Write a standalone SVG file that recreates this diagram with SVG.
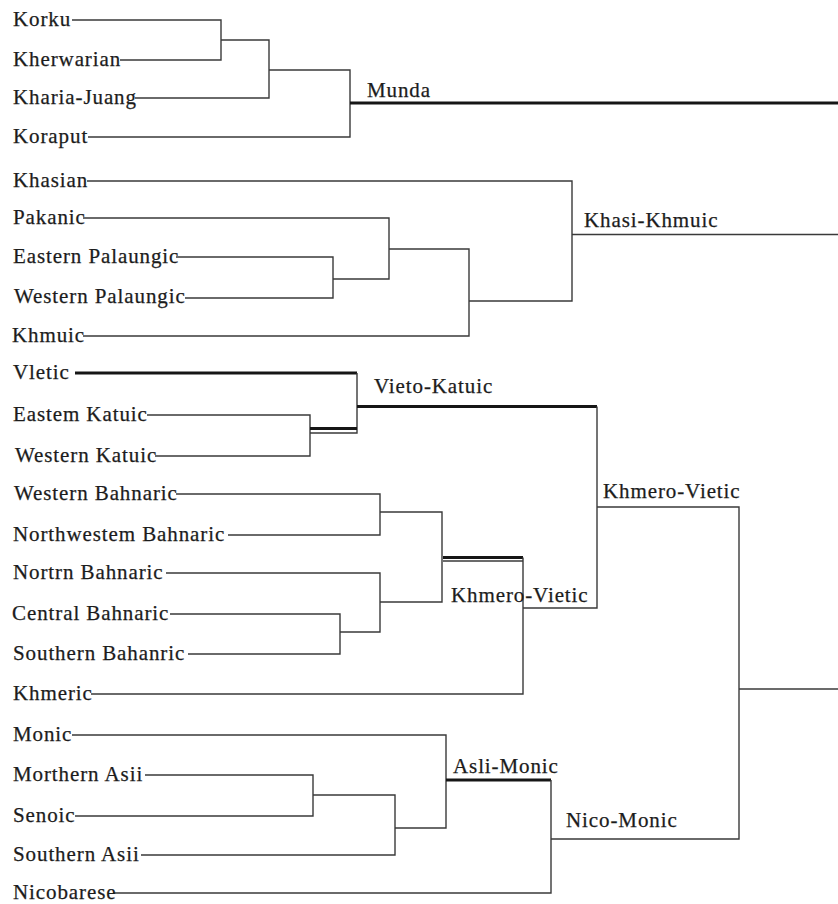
<svg xmlns="http://www.w3.org/2000/svg" width="838" height="904" viewBox="0 0 838 904">
<style>
text{font-family:"Liberation Serif","Times New Roman",serif;font-size:21px;letter-spacing:0.9px;fill:#1c1c1c;stroke:#1c1c1c;stroke-width:0.25}
.thin{fill:none;stroke:#3a3a3a;stroke-width:1.4}
.thick{fill:none;stroke:#161616;stroke-width:3}
</style>
<rect width="838" height="904" fill="#ffffff"/>
<g id="connectors">
<path class="thin" d="M72,20 H221 V60 H120"/>
<path class="thin" d="M221,40 H269 V98 H135"/>
<path class="thin" d="M269,70 H350 V137 H88"/>
<path class="thick" d="M350,103 H838"/>
<path class="thin" d="M176,257 H333 V298 H185"/>
<path class="thin" d="M333,279 H389 V218 H83"/>
<path class="thin" d="M389,249 H469 V336 H83"/>
<path class="thin" d="M469,301 H572 V181 H87"/>
<path class="thin" d="M572,234.5 H838" style="stroke-width:1.7"/>
<path class="thick" d="M75,373 H357"/>
<path class="thin" d="M357,373 V433 H310"/>
<path class="thin" d="M147,415 H310 V456 H155"/>
<path class="thick" d="M310,428.5 H357"/>
<path class="thick" d="M357,406.5 H597"/>
<path class="thin" d="M597,406.5 V608 H523"/>
<path class="thin" d="M597,507 H739 V839 H551"/>
<path class="thin" d="M739,689 H838"/>
<path class="thin" d="M176,494 H380 V535 H228"/>
<path class="thin" d="M380,512 H442 V602 H380"/>
<path class="thin" d="M166,573 H380 V632 H340"/>
<path class="thin" d="M170,614 H340 V654 H188"/>
<path class="thick" d="M443,557.5 H523"/>
<path class="thin" d="M443,561 H523"/>
<path class="thin" d="M523,557.5 V694 H91"/>
<path class="thin" d="M72,735 H446 V828 H395"/>
<path class="thin" d="M145,775 H313 V816 H75"/>
<path class="thin" d="M313,795 H395 V855 H141"/>
<path class="thick" d="M446,780 H551"/>
<path class="thin" d="M551,780 V893 H113"/>
</g>
<g id="korku"><text x="13" y="26">Korku</text></g>
<g id="kherwarian"><text x="13" y="66">Kherwarian</text></g>
<g id="kharia-juang"><text x="13" y="104">Kharia-Juang</text></g>
<g id="koraput"><text x="13" y="143">Koraput</text></g>
<g id="munda"><text x="367" y="97">Munda</text></g>
<g id="khasian"><text x="13" y="187">Khasian</text></g>
<g id="pakanic"><text x="13" y="224">Pakanic</text></g>
<g id="eastern-palaungic"><text x="13" y="263">Eastern Palaungic</text></g>
<g id="western-palaungic"><text x="14" y="303">Western Palaungic</text></g>
<g id="khmuic"><text x="12" y="342">Khmuic</text></g>
<g id="khasi-khmuic"><text x="584" y="227">Khasi-Khmuic</text></g>
<g id="vletic"><text x="13" y="379">Vletic</text></g>
<g id="eastem-katuic"><text x="13" y="421">Eastem Katuic</text></g>
<g id="western-katuic"><text x="15" y="462">Western Katuic</text></g>
<g id="vieto-katuic"><text x="374" y="393">Vieto-Katuic</text></g>
<g id="western-bahnaric"><text x="14" y="500">Western Bahnaric</text></g>
<g id="northwestem-bahnaric"><text x="13" y="541">Northwestem Bahnaric</text></g>
<g id="nortrn-bahnaric"><text x="13" y="579">Nortrn Bahnaric</text></g>
<g id="central-bahnaric"><text x="12" y="620">Central Bahnaric</text></g>
<g id="southern-bahanric"><text x="13" y="660">Southern Bahanric</text></g>
<g id="khmeric"><text x="13" y="700">Khmeric</text></g>
<g id="khmero-vietic-lower"><text x="451" y="602">Khmero-Vietic</text></g>
<g id="khmero-vietic-upper"><text x="603" y="498">Khmero-Vietic</text></g>
<g id="monic"><text x="13" y="741">Monic</text></g>
<g id="morthern-asii"><text x="13" y="781">Morthern Asii</text></g>
<g id="senoic"><text x="13" y="822">Senoic</text></g>
<g id="southern-asii"><text x="13" y="861">Southern Asii</text></g>
<g id="nicobarese"><text x="13" y="899">Nicobarese</text></g>
<g id="asli-monic"><text x="453" y="773">Asli-Monic</text></g>
<g id="nico-monic"><text x="566" y="827">Nico-Monic</text></g>
</svg>
